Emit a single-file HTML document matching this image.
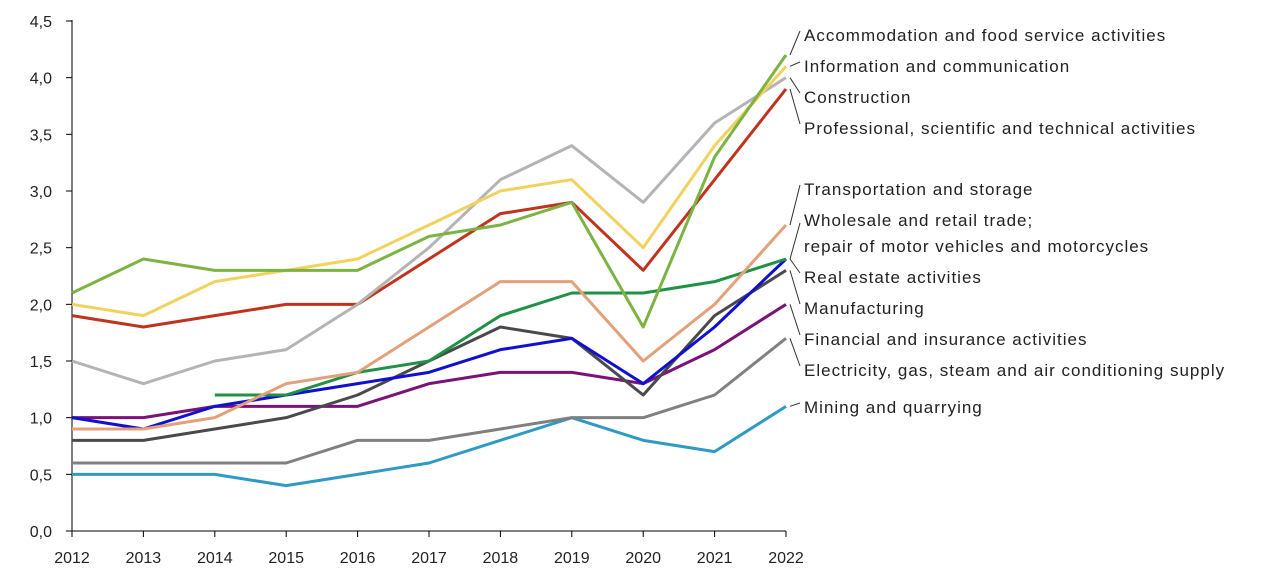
<!DOCTYPE html>
<html><head><meta charset="utf-8"><style>
body{margin:0;background:#fff;font-family:"Liberation Sans",sans-serif}
svg text{font-family:"Liberation Sans",sans-serif;fill:#222}
</style></head><body>
<svg id="chart" width="1280" height="579" xmlns="http://www.w3.org/2000/svg"></svg>
<script>
const years=[2012,2013,2014,2015,2016,2017,2018,2019,2020,2021,2022];
const yTicks=[0,0.5,1,1.5,2,2.5,3,3.5,4,4.5];
const accommodation=[2.1,2.4,2.3,2.3,2.3,2.6,2.7,2.9,1.8,3.3,4.2];
const information=[2.0,1.9,2.2,2.3,2.4,2.7,3.0,3.1,2.5,3.4,4.1];
const construction=[1.5,1.3,1.5,1.6,2.0,2.5,3.1,3.4,2.9,3.6,4.0];
const professional=[1.9,1.8,1.9,2.0,2.0,2.4,2.8,2.9,2.3,3.1,3.9];
const transportation=[0.9,0.9,1.0,1.3,1.4,1.8,2.2,2.2,1.5,2.0,2.7];
const wholesale=[null,null,1.2,1.2,1.4,1.5,1.9,2.1,2.1,2.2,2.4];
const realEstate=[1.0,0.9,1.1,1.2,1.3,1.4,1.6,1.7,1.3,1.8,2.4];
const manufacturing=[0.8,0.8,0.9,1.0,1.2,1.5,1.8,1.7,1.2,1.9,2.3];
const financial=[1.0,1.0,1.1,1.1,1.1,1.3,1.4,1.4,1.3,1.6,2.0];
const electricity=[0.6,0.6,0.6,0.6,0.8,0.8,0.9,1.0,1.0,1.2,1.7];
const mining=[0.5,0.5,0.5,0.4,0.5,0.6,0.8,1.0,0.8,0.7,1.1];
const series=[
 {name:"Accommodation and food service activities",v:accommodation,c:"#7cb342",ly:[35]},
 {name:"Information and communication",v:information,c:"#f2d25e",ly:[66]},
 {name:"Construction",v:construction,c:"#b4b4b4",ly:[97]},
 {name:"Professional, scientific and technical activities",v:professional,c:"#c0341d",ly:[128]},
 {name:"Transportation and storage",v:transportation,c:"#e4a07a",ly:[189]},
 {name:"Wholesale and retail trade;|repair of motor vehicles and motorcycles",v:wholesale,c:"#1f9246",ly:[220,246]},
 {name:"Real estate activities",v:realEstate,c:"#1010d0",ly:[277]},
 {name:"Manufacturing",v:manufacturing,c:"#4a4a4a",ly:[308]},
 {name:"Financial and insurance activities",v:financial,c:"#7a127a",ly:[339]},
 {name:"Electricity, gas, steam and air conditioning supply",v:electricity,c:"#808080",ly:[370]},
 {name:"Mining and quarrying",v:mining,c:"#2f9ac4",ly:[407]}
];
const svg=document.getElementById('chart');const NS="http://www.w3.org/2000/svg";
const x=i=>72+i*71.4;const y=v=>531-v/4.5*510;
function mk(t,a,p){const e=document.createElementNS(NS,t);for(const k in a)e.setAttribute(k,a[k]);(p||svg).appendChild(e);return e;}
const ax=mk('line',{x1:72,y1:20,x2:72,y2:531,stroke:'#000','stroke-width':1});


const bx=mk('line',{x1:72,y1:531,x2:786,y2:531,stroke:'#000','stroke-width':1});


yTicks.forEach(t=>{
 mk('line',{x1:66,y1:y(t),x2:72,y2:y(t),stroke:'#000'});
 const tx=mk('text',{x:52,y:y(t)+6,'text-anchor':'end','font-size':16});
 tx.textContent=t.toFixed(1).replace('.',',');
 
 
});
years.forEach((yr,i)=>{
 mk('line',{x1:x(i),y1:531,x2:x(i),y2:537,stroke:'#000'});
 const tx=mk('text',{x:x(i),y:563,'text-anchor':'middle','font-size':16});
 tx.textContent=yr;
 
 
});
series.slice().reverse().forEach(s=>{
 let d='';s.v.forEach((v,i)=>{if(v==null)return;d+=(d?'L':'M')+x(i)+','+y(v);});
 const p=mk('path',{d:d,fill:'none',stroke:s.c,'stroke-width':3,'stroke-linejoin':'round'});
 
 
});
series.forEach(s=>{
 const last=s.v[s.v.length-1];const ex=x(10)+4,ey=y(last);
 const ly=s.ly.length>1?(s.ly[0]+s.ly[1])/2-6:s.ly[0];
 mk('line',{x1:ex,y1:ey,x2:800,y2:ly-4,stroke:'#333','stroke-width':1});
 s.name.split('|').forEach((ln,k)=>{
  const tx=mk('text',{x:804,y:s.ly[k]+6,'font-size':17,'letter-spacing':1});
  tx.textContent=ln;
  
  
 });
});
</script>
</body></html>
